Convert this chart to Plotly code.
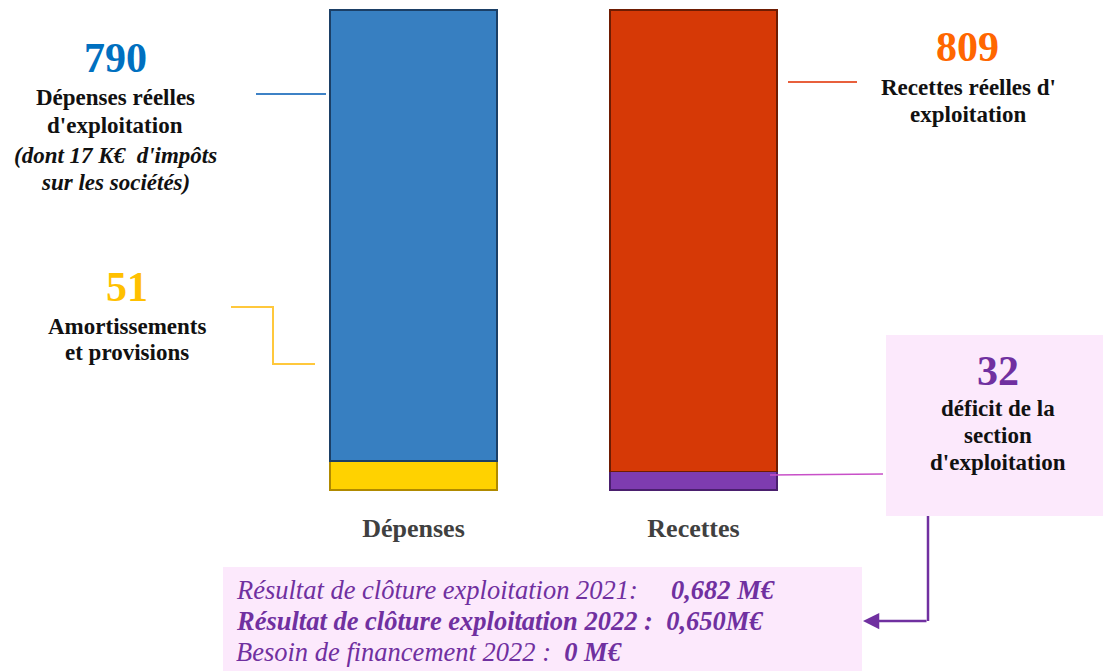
import plotly.graph_objects as go

# ---------------- data ----------------
categories = ["Dépenses", "Recettes"]
bottom_values = [51, 32]      # Amortissements et provisions / déficit de la section
top_values = [790, 809]       # Dépenses réelles / Recettes réelles
bottom_names = ["Amortissements et provisions", "déficit de la section d'exploitation"]
top_names = ["Dépenses réelles d'exploitation", "Recettes réelles d'exploitation"]
result_2021 = "0,682 M€"
result_2022 = "0,650M€"
besoin_2022 = "0 M€"
impots = "17 K€"

# ---------------- styling ----------------
W, H = 1103, 671
FONT = "Liberation Serif, Times New Roman, serif"
bottom_colors = ["#FFD200", "#7E3CB0"]
bottom_lines = ["#B08A00", "#4A1F6E"]
top_colors = ["#377FC1", "#D63906"]
top_lines = ["#1B3F66", "#6E1C02"]
PURPLE = "#7030A0"
PINK = "#FCE9FC"

def X(p):
    return p / W

def Y(p):
    return 1 - p / H

# pixel layout of the bars
bar_left0, bar_right0, spacing = 330, 497, 280
bar_top_px, bar_bottom_px = 10, 490
center0 = (bar_left0 + bar_right0) / 2
total = max(b + t for b, t in zip(bottom_values, top_values))
scale = (bar_bottom_px - bar_top_px) / total
yr = [-(H - bar_bottom_px) / scale, total + bar_top_px / scale]
xr = [-center0 / spacing, (W - center0) / spacing]

fig = go.Figure()
fig.add_trace(go.Bar(
    x=categories, y=bottom_values, name="bas",
    marker=dict(color=bottom_colors, line=dict(color=bottom_lines, width=1.5)),
    hovertext=bottom_names, showlegend=False))
fig.add_trace(go.Bar(
    x=categories, y=top_values, name="haut",
    marker=dict(color=top_colors, line=dict(color=top_lines, width=1.5)),
    hovertext=top_names, showlegend=False))

shapes = []
# pink boxes
shapes.append(dict(type="rect", xref="paper", yref="paper",
                   x0=X(886), x1=X(1103), y0=Y(516), y1=Y(335),
                   fillcolor=PINK, line=dict(width=0), layer="below"))
shapes.append(dict(type="rect", xref="paper", yref="paper",
                   x0=X(223), x1=X(862), y0=Y(671), y1=Y(567),
                   fillcolor=PINK, line=dict(width=0), layer="below"))
# leader lines
shapes.append(dict(type="line", xref="paper", yref="paper",
                   x0=X(256), x1=X(326), y0=Y(94), y1=Y(94),
                   line=dict(color="#3E82C6", width=2)))
shapes.append(dict(type="path", xref="paper", yref="paper",
                   path=f"M {X(231)},{Y(307)} L {X(273)},{Y(307)} L {X(273)},{Y(364)} L {X(315)},{Y(364)}",
                   line=dict(color="#FFC83C", width=2)))
shapes.append(dict(type="line", xref="paper", yref="paper",
                   x0=X(788), x1=X(857), y0=Y(82), y1=Y(82),
                   line=dict(color="#E8603C", width=2)))
shapes.append(dict(type="line", xref="paper", yref="paper",
                   x0=X(770), x1=X(883), y0=Y(475), y1=Y(474),
                   line=dict(color="#C850C8", width=1.5)))
shapes.append(dict(type="line", xref="paper", yref="paper",
                   x0=X(928), x1=X(928), y0=Y(516), y1=Y(621),
                   line=dict(color=PURPLE, width=2.5)))

ann = []
def txt(text, x, y, size, color="#111111", xanchor="center"):
    ann.append(dict(text=text, x=X(x), y=Y(y), xref="paper", yref="paper",
                    xanchor=xanchor, yanchor="middle", showarrow=False,
                    font=dict(family=FONT, size=size, color=color)))

# left labels
txt(f"<b>{top_values[0]}</b>", 115, 58, 42, "#0070C0")
txt("<b>Dépenses réelles</b>", 115, 98, 23)
txt("<b>d'exploitation</b>", 115, 126, 23)
txt(f"<b><i>(dont {impots}  d'impôts</i></b>", 115, 155, 23)
txt("<b><i>sur les sociétés)</i></b>", 115, 182, 23)

txt(f"<b>{bottom_values[0]}</b>", 127, 287, 42, "#FFC000")
txt("<b>Amortissements</b>", 127, 326, 23)
txt("<b>et provisions</b>", 127, 352, 23)

# right labels
txt(f"<b>{top_values[1]}</b>", 967, 47, 42, "#FF6600")
txt("<b>Recettes réelles d'</b>", 968, 87, 23)
txt("<b>exploitation</b>", 968, 114, 23)

txt(f"<b>{bottom_values[1]}</b>", 998, 371, 42, PURPLE)
txt("<b>déficit de la</b>", 998, 409, 23)
txt("<b>section</b>", 998, 436, 23)
txt("<b>d'exploitation</b>", 998, 462, 23)

# bottom box text
NB = "\u00a0"
txt(f"<i>Résultat de clôture exploitation 2021:{NB*5}<b>{result_2021}</b></i>", 234, 590, 26.5, PURPLE, "left")
txt(f"<b><i>Résultat de clôture exploitation 2022 :{NB*2}{result_2022}</i></b>", 234, 621, 26.5, PURPLE, "left")
txt(f"<i>Besoin de financement 2022 :{NB*2}<b>{besoin_2022}</b></i>", 234, 652, 26.5, PURPLE, "left")

# arrow into the bottom box
ann.append(dict(x=X(863), y=Y(621), ax=928 - 863, ay=0,
                xref="paper", yref="paper", axref="pixel", ayref="pixel",
                text="", showarrow=True, arrowhead=2, arrowsize=1.3,
                arrowwidth=2.5, arrowcolor=PURPLE))

fig.update_layout(
    width=W, height=H,
    margin=dict(l=0, r=0, t=0, b=0),
    paper_bgcolor="white", plot_bgcolor="rgba(0,0,0,0)",
    barmode="stack",
    bargap=1 - (bar_right0 - bar_left0) / spacing,
    shapes=shapes, annotations=ann,
    xaxis=dict(range=xr, anchor="free", position=(H - bar_bottom_px) / H,
               showgrid=False, zeroline=False, showline=False, ticks="",
               ticklabelstandoff=20,
               tickfont=dict(family=FONT, size=26, color="#404040", weight="bold")),
    yaxis=dict(range=yr, visible=False, showgrid=False, zeroline=False),
    font=dict(family=FONT),
)

fig.write_html("out.html", config={"displayModeBar": False},
               post_script="document.body.style.margin='0';")
